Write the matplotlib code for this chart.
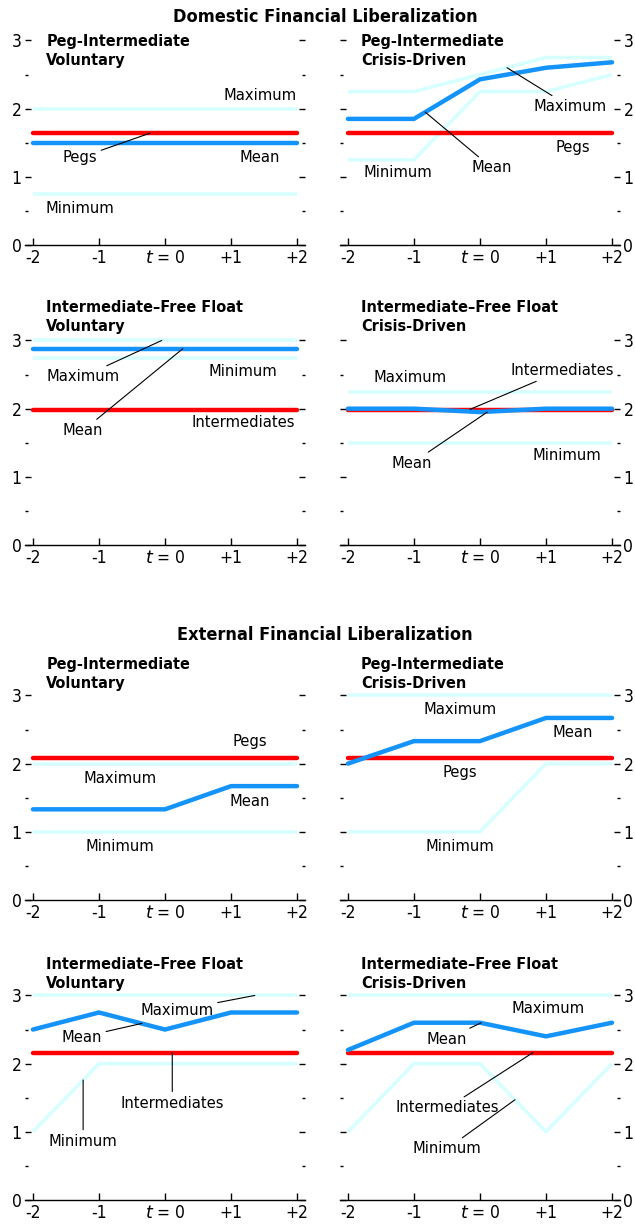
import matplotlib
matplotlib.use("Agg")
import matplotlib.pyplot as plt
from matplotlib import font_manager

# prefer a narrow sans face when one is installed
narrow = {}
for f in font_manager.fontManager.ttflist:
    fn = f.fname.replace('\\', '/').split('/')[-1]
    if fn.startswith('LiberationSansNarrow') or fn.startswith('DejaVuSansCondensed'):
        key = 'bold' if 'Bold' in fn else 'regular'
        if 'Italic' in fn or 'Oblique' in fn:
            continue
        narrow.setdefault(key, f.fname)

if 'regular' in narrow:
    REG = font_manager.FontProperties(fname=narrow['regular'])
    BOLD = font_manager.FontProperties(fname=narrow.get('bold', narrow['regular']))
    LBL, TCK, TTL, SEC = 11.8, 12.5, 11.6, 13
else:
    REG = font_manager.FontProperties(family='Liberation Sans')
    BOLD = font_manager.FontProperties(family='Liberation Sans', weight='bold')
    LBL, TCK, TTL, SEC = 12, 12.5, 12, 13.5

plt.rcParams['font.family'] = ['Liberation Sans', 'DejaVu Sans']

RED = '#ff0000'
BLUE = '#1493fa'
CYAN = '#d8ffff'

years = [-2, -1, 0, 1, 2]
year_labels = ['-2', '-1', '$\\it{t}$ = 0', '+1', '+2']

# Domestic financial liberalization
dom_pi_vol_max = [2.0, 2.0, 2.0, 2.0, 2.0]
dom_pi_vol_mean = [1.5, 1.5, 1.5, 1.5, 1.5]
dom_pi_vol_min = [0.75, 0.75, 0.75, 0.75, 0.75]
dom_pegs = 1.64

dom_pi_cri_max = [2.25, 2.25, 2.5, 2.75, 2.75]
dom_pi_cri_mean = [1.85, 1.85, 2.43, 2.6, 2.68]
dom_pi_cri_min = [1.25, 1.25, 2.25, 2.25, 2.5]

dom_if_vol_max = [3.0, 3.0, 3.0, 3.0, 3.0]
dom_if_vol_mean = [2.88, 2.88, 2.88, 2.88, 2.88]
dom_if_vol_min = [2.75, 2.75, 2.75, 2.75, 2.75]
dom_intermediates = 1.98

dom_if_cri_max = [2.25, 2.25, 2.25, 2.25, 2.25]
dom_if_cri_mean = [2.0, 2.0, 1.95, 2.0, 2.0]
dom_if_cri_min = [1.5, 1.5, 1.5, 1.5, 1.5]

# External financial liberalization
ext_pi_vol_max = [2.0, 2.0, 2.0, 2.0, 2.0]
ext_pi_vol_mean = [1.33, 1.33, 1.33, 1.67, 1.67]
ext_pi_vol_min = [1.0, 1.0, 1.0, 1.0, 1.0]
ext_pegs = 2.08

ext_pi_cri_max = [3.0, 3.0, 3.0, 3.0, 3.0]
ext_pi_cri_mean = [2.0, 2.33, 2.33, 2.67, 2.67]
ext_pi_cri_min = [1.0, 1.0, 1.0, 2.0, 2.0]

ext_if_vol_max = [3.0, 3.0, 3.0, 3.0, 3.0]
ext_if_vol_mean = [2.5, 2.75, 2.5, 2.75, 2.75]
ext_if_vol_min = [1.0, 2.0, 2.0, 2.0, 2.0]
ext_intermediates = 2.16

ext_if_cri_max = [3.0, 3.0, 3.0, 3.0, 3.0]
ext_if_cri_mean = [2.2, 2.6, 2.6, 2.4, 2.6]
ext_if_cri_min = [1.0, 2.0, 2.0, 1.0, 2.0]

panels = [
    ('Peg-Intermediate\nVoluntary', dom_pi_vol_max, dom_pi_vol_mean, dom_pi_vol_min, dom_pegs),
    ('Peg-Intermediate\nCrisis-Driven', dom_pi_cri_max, dom_pi_cri_mean, dom_pi_cri_min, dom_pegs),
    ('Intermediate\u2013Free Float\nVoluntary', dom_if_vol_max, dom_if_vol_mean, dom_if_vol_min, dom_intermediates),
    ('Intermediate\u2013Free Float\nCrisis-Driven', dom_if_cri_max, dom_if_cri_mean, dom_if_cri_min, dom_intermediates),
    ('Peg-Intermediate\nVoluntary', ext_pi_vol_max, ext_pi_vol_mean, ext_pi_vol_min, ext_pegs),
    ('Peg-Intermediate\nCrisis-Driven', ext_pi_cri_max, ext_pi_cri_mean, ext_pi_cri_min, ext_pegs),
    ('Intermediate\u2013Free Float\nVoluntary', ext_if_vol_max, ext_if_vol_mean, ext_if_vol_min, ext_intermediates),
    ('Intermediate\u2013Free Float\nCrisis-Driven', ext_if_cri_max, ext_if_cri_mean, ext_if_cri_min, ext_intermediates),
]

# label placements per panel: name -> (text x, text y, leader target or None)
labels = [
    {'Maximum': (1.44, 2.19, None), 'Pegs': (-1.29, 1.28, (-0.23, 1.64)),
     'Mean': (1.44, 1.29, None), 'Minimum': (-1.29, 0.54, None)},
    {'Maximum': (1.36, 2.03, (0.41, 2.6)), 'Mean': (0.18, 1.13, (-0.83, 1.95)),
     'Pegs': (1.41, 1.43, None), 'Minimum': (-1.24, 1.06, None)},
    {'Maximum': (-1.24, 2.47, (-0.05, 3.0)), 'Minimum': (1.18, 2.55, None),
     'Mean': (-1.24, 1.68, (0.27, 2.88)), 'Intermediates': (1.18, 1.79, None)},
    {'Maximum': (-1.06, 2.45, None), 'Intermediates': (1.24, 2.56, (-0.15, 1.99)),
     'Mean': (-1.03, 1.2, (0.11, 1.95)), 'Minimum': (1.32, 1.32, None)},
    {'Pegs': (1.29, 2.32, None), 'Maximum': (-0.68, 1.78, None),
     'Mean': (1.29, 1.44, None), 'Minimum': (-0.68, 0.78, None)},
    {'Maximum': (-0.3, 2.79, None), 'Mean': (1.41, 2.46, None),
     'Pegs': (-0.3, 1.87, None), 'Minimum': (-0.3, 0.78, None)},
    {'Maximum': (0.18, 2.78, (1.36, 3.0)), 'Mean': (-1.26, 2.39, (-0.35, 2.59)),
     'Intermediates': (0.11, 1.42, (0.11, 2.16)), 'Minimum': (-1.24, 0.86, (-1.24, 1.76))},
    {'Maximum': (1.03, 2.81, None), 'Mean': (-0.5, 2.36, (0.02, 2.6)),
     'Intermediates': (-0.5, 1.35, (0.8, 2.16)), 'Minimum': (-0.5, 0.75, (0.53, 1.47))},
]

title_y = [3.1, 3.1, 3.59, 3.59, 3.56, 3.56, 3.57, 3.57]

fig = plt.figure(figsize=(6.35, 12.24), dpi=100)

row_bottoms = [0.7998, 0.5547, 0.2647, 0.0196]
col_lefts = [0.0394, 0.5354]
ax_w, ax_h = 0.4409, 0.1727

for i, (title, mx, mean, mn, ref) in enumerate(panels):
    row, col = divmod(i, 2)
    ax = fig.add_axes([col_lefts[col], row_bottoms[row], ax_w, ax_h])

    ax.plot(years, mx, color=CYAN, lw=2.6, solid_capstyle='butt', zorder=2)
    ax.plot(years, mn, color=CYAN, lw=2.6, solid_capstyle='butt', zorder=2)
    ax.plot(years, [ref] * len(years), color=RED, lw=3.2, solid_capstyle='round', zorder=3)
    ax.plot(years, mean, color=BLUE, lw=3.2, solid_capstyle='round', zorder=4)

    ax.set_xlim(-2.12, 2.12)
    ax.set_ylim(0, 3.1)
    for s in ('top', 'left', 'right'):
        ax.spines[s].set_visible(False)
    ax.spines['bottom'].set_linewidth(1.0)

    ax.set_xticks(years)
    ax.set_xticklabels(year_labels)
    ax.set_yticks([0, 1, 2, 3])
    ax.set_yticks([0.5, 1.5, 2.5], minor=True)
    ax.tick_params(axis='x', direction='in', length=5, width=1, pad=3)
    ax.tick_params(axis='y', which='major', direction='in', length=4, width=1, pad=2.5,
                   left=True, right=True,
                   labelleft=(col == 0), labelright=(col == 1))
    ax.tick_params(axis='y', which='minor', direction='in', length=2, width=1,
                   left=True, right=True)
    for lab in ax.get_xticklabels() + ax.get_yticklabels():
        lab.set_fontproperties(REG)
        lab.set_fontsize(TCK)

    t = ax.text(-1.8, title_y[i], title, ha='left', va='top',
                linespacing=1.35, clip_on=False, fontproperties=BOLD)
    t.set_fontsize(TTL)

    for name, (tx, ty, target) in labels[i].items():
        if target is None:
            t = ax.text(tx, ty, name, ha='center', va='center', zorder=5,
                        fontproperties=REG)
        else:
            t = ax.annotate(name, xy=target, xytext=(tx, ty),
                            ha='center', va='center', zorder=5, fontproperties=REG,
                            arrowprops=dict(arrowstyle='-', color='black', lw=0.8,
                                            shrinkA=1, shrinkB=0))
        t.set_fontsize(LBL)

for y, txt in [(0.986, 'Domestic Financial Liberalization'),
               (0.481, 'External Financial Liberalization')]:
    t = fig.text(0.512, y, txt, ha='center', va='center', fontproperties=BOLD)
    t.set_fontsize(SEC)

fig.savefig('out.png', dpi=100)
